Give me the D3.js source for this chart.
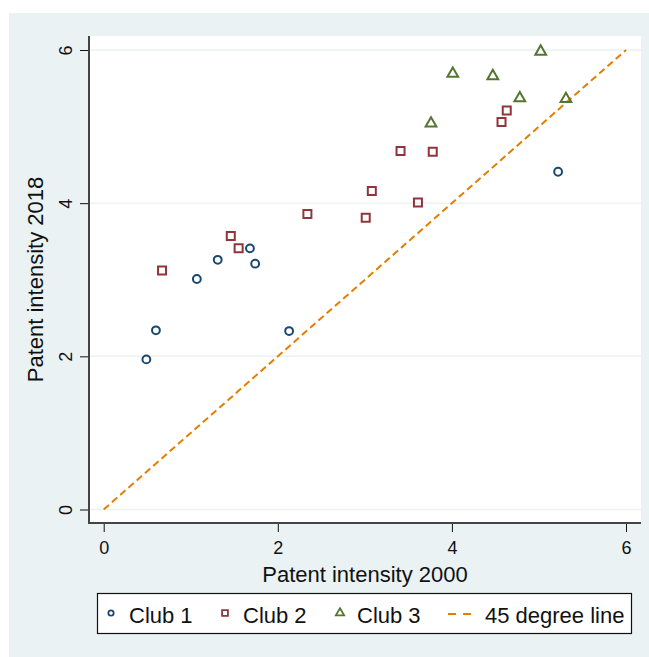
<!DOCTYPE html>
<html>
<head>
<meta charset="utf-8">
<script src="https://cdn.jsdelivr.net/npm/d3@7"></script>
<style>
  html, body { margin: 0; padding: 0; background: #fff; }
  svg { display: block; font-family: "Liberation Sans", Arial, sans-serif; }
</style>
</head>
<body>
<div id="chart"></div>
<script>
// Club 1 (circles)
const club1X = [0.49, 0.60, 1.07, 1.31, 1.68, 1.74, 2.13, 5.22];
const club1Y = [1.96, 2.34, 3.01, 3.26, 3.41, 3.21, 2.33, 4.41];
// Club 2 (squares)
const club2X = [0.67, 1.46, 1.55, 2.34, 3.01, 3.08, 3.41, 3.61, 3.78, 4.57, 4.63];
const club2Y = [3.12, 3.57, 3.41, 3.86, 3.81, 4.16, 4.68, 4.01, 4.67, 5.06, 5.21];
// Club 3 (triangles)
const club3X = [3.76, 4.01, 4.47, 4.78, 5.02, 5.31];
const club3Y = [5.04, 5.69, 5.66, 5.37, 5.98, 5.36];

const lineX = [0, 6];
const xTicks = [0, 2, 4, 6];
const yTicks = [0, 2, 4, 6];
const legendLabels = ["Club 1", "Club 2", "Club 3", "45 degree line"];

const W = 649, H = 657;
const BG = "#eaf2f3";
const COLORS = ["#1a476f", "#90353b", "#55752f", "#e37e00"];

// plot region (white box)
const plot = { left: 89, right: 641, top: 36, bottom: 523 };

const svg = d3.select("#chart").append("svg")
  .attr("width", W).attr("height", H);

// outer background
svg.append("rect")
  .attr("x", 9).attr("y", 13)
  .attr("width", W - 9).attr("height", H - 13)
  .attr("fill", BG);

svg.append("rect")
  .attr("x", plot.left).attr("y", plot.top)
  .attr("width", plot.right - plot.left)
  .attr("height", plot.bottom - plot.top)
  .attr("fill", "#fff");

const x = d3.scaleLinear().domain([0, 6]).range([103.7, 626]);
const y = d3.scaleLinear().domain([0, 6]).range([509.5, 50]);

// horizontal gridlines
svg.append("g").selectAll("line")
  .data(yTicks)
  .join("line")
  .attr("x1", plot.left).attr("x2", plot.right)
  .attr("y1", d => y(d)).attr("y2", d => y(d))
  .attr("stroke", BG).attr("stroke-width", 1.5);

// y axis
const yAxis = svg.append("g")
  .attr("transform", `translate(${plot.left},0)`)
  .call(d3.axisLeft(y).tickValues(yTicks).tickSize(9).tickFormat(d3.format("d")));
yAxis.select(".domain").remove();
yAxis.selectAll(".tick line").attr("stroke", "#111");
yAxis.selectAll(".tick text")
  .attr("font-size", 18)
  .attr("fill", "#111")
  .attr("text-anchor", "middle")
  .attr("dy", null)
  .attr("x", null)
  .attr("transform", "translate(-17,0) rotate(-90)");

// x axis
const xAxis = svg.append("g")
  .attr("transform", `translate(0,${plot.bottom})`)
  .call(d3.axisBottom(x).tickValues(xTicks).tickSize(9).tickFormat(d3.format("d")));
xAxis.select(".domain").remove();
xAxis.selectAll(".tick line").attr("stroke", "#111");
xAxis.selectAll(".tick text")
  .attr("font-size", 18)
  .attr("fill", "#111")
  .attr("dy", null)
  .attr("y", 31);

// axis lines
svg.append("line")
  .attr("x1", plot.left).attr("x2", plot.left)
  .attr("y1", plot.top).attr("y2", plot.bottom + 1)
  .attr("stroke", "#444").attr("stroke-width", 2);
svg.append("line")
  .attr("x1", plot.left - 1).attr("x2", plot.right)
  .attr("y1", plot.bottom).attr("y2", plot.bottom)
  .attr("stroke", "#444").attr("stroke-width", 2);

// axis titles
svg.append("text")
  .attr("x", (plot.left + plot.right) / 2)
  .attr("y", 582)
  .attr("text-anchor", "middle")
  .attr("font-size", 22)
  .attr("fill", "#111")
  .text("Patent intensity 2000");

svg.append("text")
  .attr("transform", `translate(43,${(plot.top + plot.bottom) / 2}) rotate(-90)`)
  .attr("text-anchor", "middle")
  .attr("font-size", 22)
  .attr("fill", "#111")
  .text("Patent intensity 2018");

// 45 degree line
svg.append("line")
  .attr("x1", x(lineX[0])).attr("y1", y(lineX[0]))
  .attr("x2", x(lineX[1])).attr("y2", y(lineX[1]))
  .attr("stroke", COLORS[3])
  .attr("stroke-width", 2)
  .attr("stroke-dasharray", "7,4");

// markers
const series = [
  { xs: club1X, ys: club1Y, shape: d3.symbolCircle, size: 48, color: COLORS[0] },
  { xs: club2X, ys: club2Y, shape: d3.symbolSquare, size: 64, color: COLORS[1] },
  { xs: club3X, ys: club3Y, shape: d3.symbolTriangle, size: 50, color: COLORS[2] },
];

series.forEach(s => {
  const pts = s.xs.map((v, i) => [v, s.ys[i]]);
  svg.append("g").selectAll("path")
    .data(pts)
    .join("path")
    .attr("transform", d => `translate(${x(d[0])},${y(d[1])})`)
    .attr("d", d3.symbol(s.shape, s.size))
    .attr("fill", "none")
    .attr("stroke", s.color)
    .attr("stroke-width", 2);
});

// legend
const legend = svg.append("g");
legend.append("rect")
  .attr("x", 97.5).attr("y", 593.5)
  .attr("width", 534).attr("height", 40)
  .attr("fill", "#fff")
  .attr("stroke", "#111")
  .attr("stroke-width", 1.2);

const legendMarkX = [111, 225, 340];
const legendTextX = [129, 243, 357, 485];
const legendSizes = [22, 34, 30];

series.forEach((s, i) => {
  legend.append("path")
    .attr("transform", `translate(${legendMarkX[i]},613)`)
    .attr("d", d3.symbol(s.shape, legendSizes[i]))
    .attr("fill", "none")
    .attr("stroke", s.color)
    .attr("stroke-width", 1.8);
});

legend.append("line")
  .attr("x1", 448).attr("x2", 472)
  .attr("y1", 614).attr("y2", 614)
  .attr("stroke", COLORS[3])
  .attr("stroke-width", 2)
  .attr("stroke-dasharray", "8,7");

legend.selectAll("text.lbl")
  .data(legendLabels)
  .join("text")
  .attr("class", "lbl")
  .attr("x", (d, i) => legendTextX[i])
  .attr("y", 623)
  .attr("font-size", 22)
  .attr("fill", "#111")
  .text(d => d);
</script>
</body>
</html>
